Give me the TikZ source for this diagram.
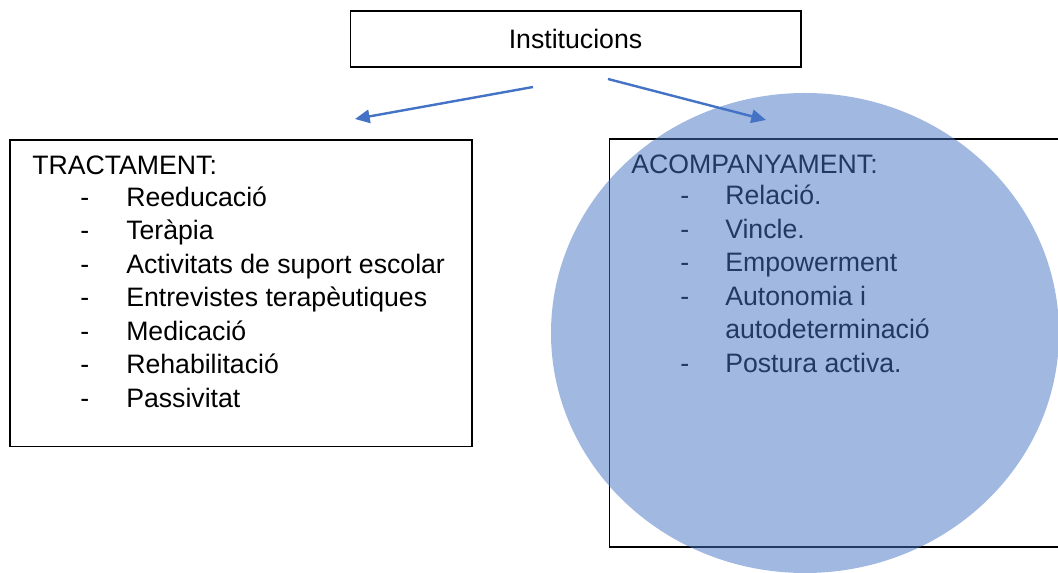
\documentclass[tikz,border=0pt]{standalone}
\usepackage{fontspec}
\setmainfont{Liberation Sans}
\usetikzlibrary{arrows.meta}
\definecolor{blau}{HTML}{4472C4}
\tikzset{every picture/.style = {x=0.75pt, y=-0.75pt}}
\tikzset{caixa/.style = {draw, line width=1pt, inner sep=0, font=\fontsize{20}{24}\selectfont}}
\tikzset{lletra/.style = {anchor=base west, inner sep=0, font=\fontsize{20}{24}\selectfont}}
\tikzset{fletxa/.style = {blau, line width=1.8pt, -{Triangle[length=11pt, width=10pt]}}}

\begin{document}
\begin{tikzpicture}
  \useasboundingbox (0,0) rectangle (1058,573);
  \node[caixa, minimum width=338pt, minimum height=42pt] (inst) at (575.5,39) {Institucions};
  % tractament
  \node[caixa, minimum width=346.5pt, minimum height=230pt] (tract) at (241,293.5) {};
  \node[lletra] (tracttitol) at (32,175) {TRACTAMENT:};
  \foreach \t [count=\i] in {Reeducació, Teràpia, Activitats de suport escolar,
      Entrevistes terapèutiques, Medicació, Rehabilitació, Passivitat} {
    \node[lletra] (tguio\i) at (80, 173+33.5*\i) {-};
    \node[lletra] (tract\i) at (126, 173+33.5*\i) {\t};
  }
  % acompanyament
  \node[caixa, minimum width=353pt, minimum height=306pt] (acomp) at (844.5,343) {};
  \node[lletra] (acomptitol) at (631,174) {ACOMPANYAMENT:};
  \foreach \t/\i in {Relació./1, Vincle./2, Empowerment/3, Autonomia i/4, Postura activa./6} {
    \node[lletra] (aguio\i) at (680, 171.5+33.5*\i) {-};
    \node[lletra] (acomp\i) at (725, 171.5+33.5*\i) {\t};
  }
  \node[lletra] (acomp5) at (725, 171.5+33.5*5) {autodeterminació};
  % fletxes
  \coordinate (inici1) at (533,87);
  \coordinate (fi1) at (355,119);
  \coordinate (inici2) at (608,79);
  \coordinate (fi2) at (766,120);
  \draw[fletxa] (inici1) -- (fi1);
  \draw[fletxa] (inici2) -- (fi2);
  \fill[blau, fill opacity=0.5] (805,333) ellipse [x radius=190.5pt, y radius=180pt];
\end{tikzpicture}
\end{document}
